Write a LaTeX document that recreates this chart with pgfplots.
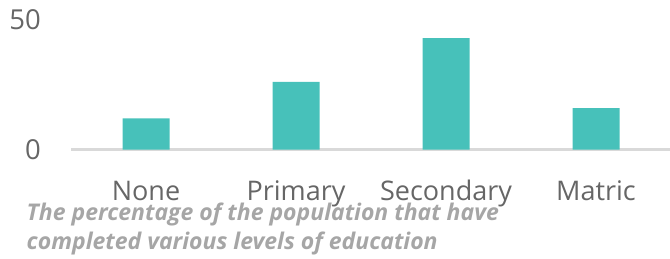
\documentclass[border=0pt]{standalone}
\usepackage{pgfplots}
\pgfplotsset{compat=1.18}
\usepackage{fontspec}
\setmainfont{Open Sans}
\definecolor{barc}{HTML}{47C1BA}
\definecolor{axc}{HTML}{D9D9D9}
\definecolor{labc}{HTML}{666666}
\definecolor{capc}{HTML}{A6A6A6}
\begin{document}
\begin{tikzpicture}
\path[use as bounding box] (0,0) rectangle (670bp,259bp);
\begin{axis}[
  at={(71bp,109.5bp)}, anchor=south west,
  scale only axis, width=600bp, height=129.5bp,
  xmin=-0.5, xmax=3.5, ymin=0, ymax=50,
  axis x line*=bottom, axis y line*=left,
  x axis line style={draw=axc, line width=2.5bp, -},
  y axis line style={draw=none},
  xtick={0,1,2,3}, xticklabels={None,Primary,Secondary,Matric},
  ytick={0,50},
  major tick length=0pt,
  tick style={draw=none},
  /pgf/number format/assume math mode=true,
  xticklabel style={font=\fontsize{27bp}{32bp}\selectfont, text=labc, anchor=base, yshift=-50.5bp, inner sep=0pt},
  yticklabel style={font=\fontsize{27.5bp}{32bp}\selectfont, text=labc, anchor=east, xshift=-30bp, inner sep=0pt},
  clip=false,
]
\addplot[ybar, bar width=47bp, bar shift=0pt, fill=barc, draw=none] coordinates {(0,12) (1,26.1) (2,43.05) (3,16)};
\end{axis}
\node[anchor=base west, inner sep=0pt, text=capc, font=\fontsize{23bp}{28bp}\selectfont\bfseries\itshape] at (26.5bp,38.3bp) {The percentage of the population that have};
\node[anchor=base west, inner sep=0pt, text=capc, font=\fontsize{23bp}{28bp}\selectfont\bfseries\itshape] at (26.5bp,9.7bp) {completed various levels of education};
\end{tikzpicture}
\end{document}
